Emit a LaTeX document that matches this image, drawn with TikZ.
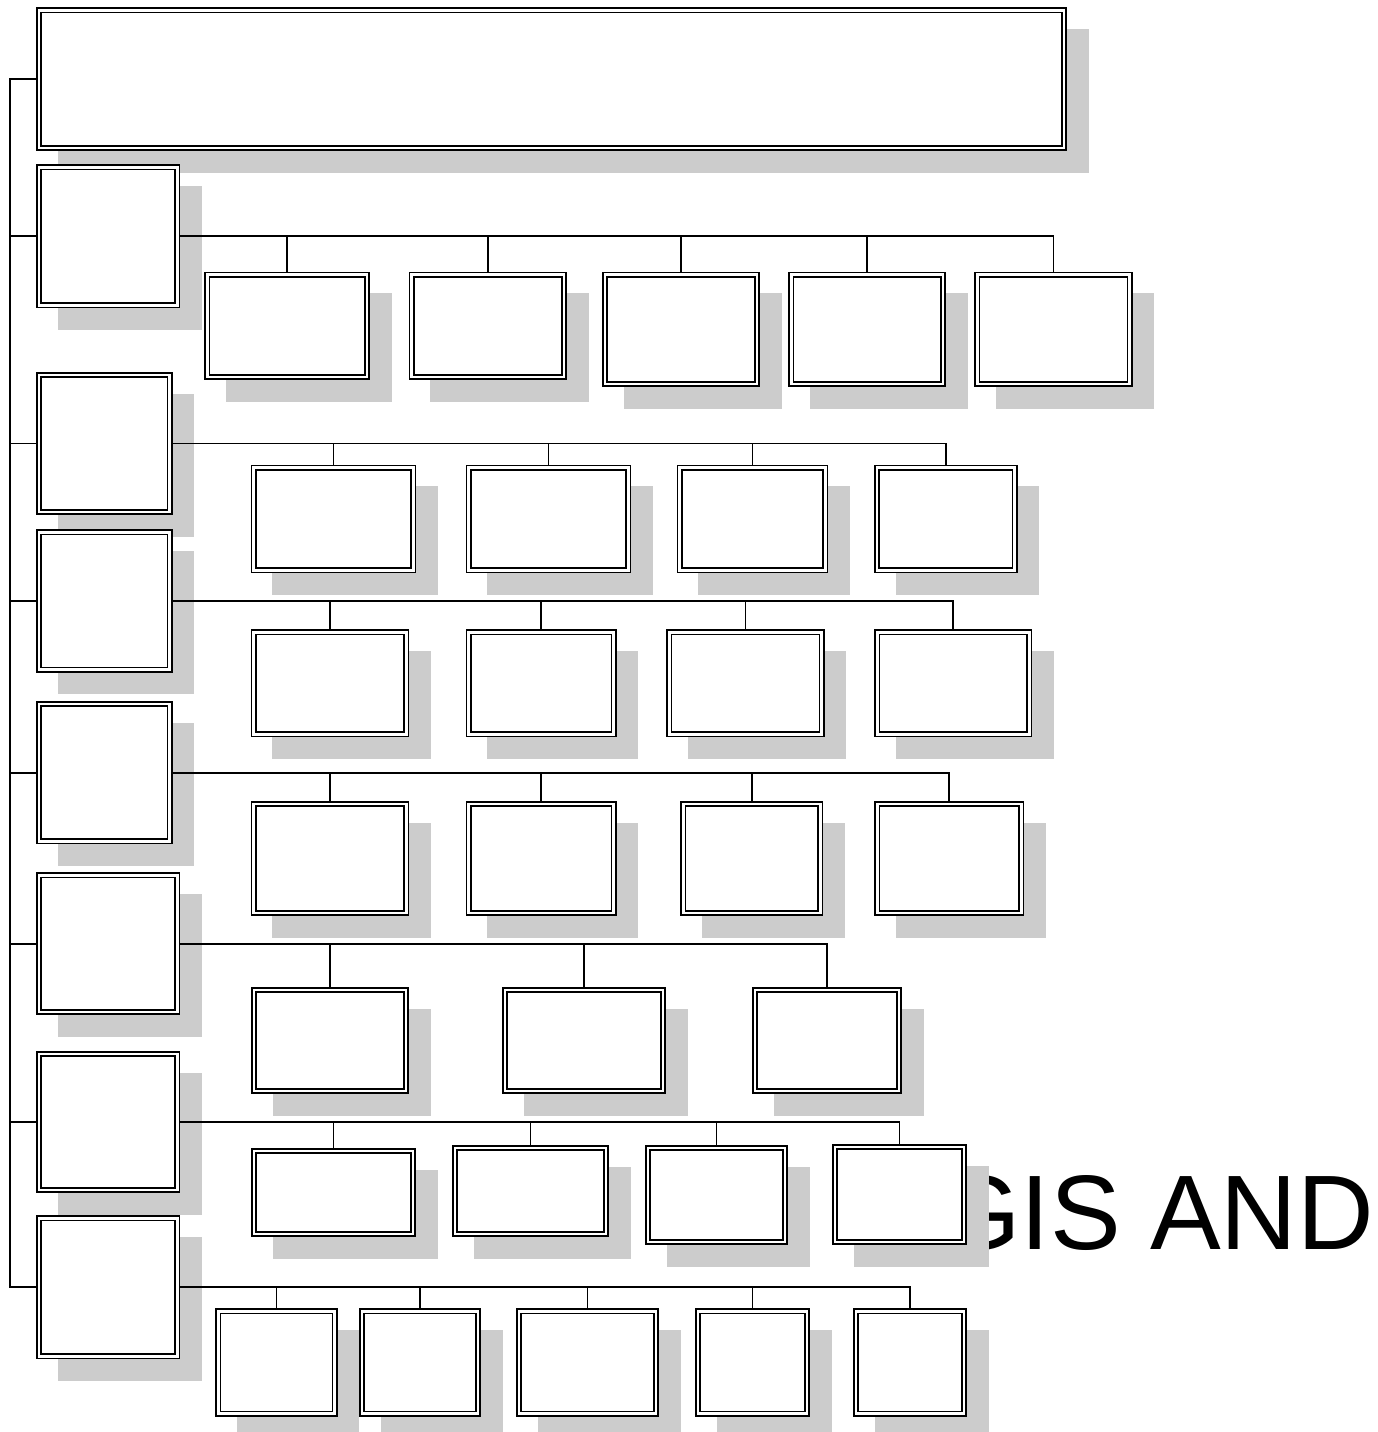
\documentclass[tikz,border=0pt]{standalone}
\usepackage{fontspec}
\setmainfont{Liberation Sans}
\definecolor{shadowc}{HTML}{CCCCCC}
\pgfdeclarelayer{txt}
\pgfdeclarelayer{shade}
\pgfsetlayers{txt,shade,main}
\tikzset{
  dbox/.style={rectangle, draw=black, fill=white, double=white, double distance=2.6pt,
    line width=1.7pt, inner sep=0pt, outer sep=3pt},
  conn/.style={draw=black, line width=1.7pt},
  shad/.style={fill=shadowc}
}
\newcommand\drawbox[5]{%
  \begin{pgfonlayer}{shade}\fill[shad] ({#2+21.5},{#3+21.5}) rectangle ({#4+21.5},{#5+21.5});\end{pgfonlayer}%
  \node[dbox, minimum width={#4-#2-6}, minimum height={#5-#3-6}] (#1) at ({(#2+#4)/2},{(#3+#5)/2}) {};%
}
\begin{document}
\begin{tikzpicture}[x=1pt,y=-1pt]
\useasboundingbox (0,0) rectangle (1377,1432);
\begin{pgfonlayer}{txt}
\node[anchor=base west, inner sep=0pt, font=\fontsize{106}{127}\selectfont] (gis) at (938,1249) {GIS AND};
\end{pgfonlayer}
% top
\drawbox{top}{36}{7.3}{1067}{151}
% level 1
\drawbox{L1}{36}{164.3}{180.3}{308.3}
\drawbox{L2}{36}{372}{172.7}{515}
\drawbox{L3}{36}{529.3}{172.7}{672.7}
\drawbox{L4}{36}{701}{172.7}{844.3}
\drawbox{L5}{36}{872.3}{180.3}{1015}
\drawbox{L6}{36}{1051}{180.3}{1193}
\drawbox{L7}{36}{1215.3}{180.3}{1359.3}
% row 1
\drawbox{r1a}{204.3}{271.7}{370}{380}
\drawbox{r1b}{408.7}{271.7}{567}{380}
\drawbox{r1c}{602}{271.7}{760}{387}
\drawbox{r1d}{788.3}{271.7}{946}{387}
\drawbox{r1e}{974.3}{271.7}{1132.7}{387}
% row 2
\drawbox{r2a}{250.7}{464.7}{416.3}{573.3}
\drawbox{r2b}{465.7}{464.7}{631.3}{573.3}
\drawbox{r2c}{676.7}{464.7}{828.3}{573.3}
\drawbox{r2d}{874}{464.7}{1017.7}{573.3}
% row 3
\drawbox{r3a}{250.7}{629.3}{409.3}{737.3}
\drawbox{r3b}{465.7}{629.3}{616.7}{737.3}
\drawbox{r3c}{666.3}{629.3}{824.7}{737.3}
\drawbox{r3d}{874.3}{629.3}{1032.3}{737.3}
% row 4
\drawbox{r4a}{250.7}{801}{409.3}{916}
\drawbox{r4b}{465.7}{801}{616.7}{916}
\drawbox{r4c}{680.3}{801}{823.3}{916}
\drawbox{r4d}{874.3}{801}{1024.3}{916}
% row 5
\drawbox{r5a}{251}{987}{409}{1094}
\drawbox{r5b}{502}{987}{666}{1094}
\drawbox{r5c}{752}{987}{902}{1094}
% row 6
\drawbox{r6a}{251}{1148}{416}{1237}
\drawbox{r6b}{452}{1145}{609}{1237}
\drawbox{r6c}{645}{1145}{788}{1245}
\drawbox{r6d}{832}{1144}{967}{1245}
% row 7
\drawbox{r7a}{215.3}{1308.3}{337.7}{1416.7}
\drawbox{r7b}{359}{1308.3}{481}{1416.7}
\drawbox{r7c}{516}{1308.3}{659}{1416.7}
\drawbox{r7d}{695}{1308.3}{810}{1416.7}
\drawbox{r7e}{853}{1308.3}{967}{1416.7}
% connectors
\coordinate (trunk) at (10,79.15);
\foreach \i in {1,...,7} \draw[conn] (top.west) -- (trunk) |- (L\i.west);
\foreach \c in {a,b,c,d,e} \draw[conn] (L1.east) -| (r1\c.north);
\foreach \c in {a,b,c,d} \draw[conn] (L2.east) -| (r2\c.north);
\foreach \c in {a,b,c,d} \draw[conn] (L3.east) -| (r3\c.north);
\foreach \c in {a,b,c,d} \draw[conn] (L4.east) -| (r4\c.north);
\foreach \c in {a,b,c} \draw[conn] (L5.east) -| (r5\c.north);
\foreach \c in {a,b,c,d} \draw[conn] (L6.east) -| (r6\c.north);
\foreach \c in {a,b,c,d,e} \draw[conn] (L7.east) -| (r7\c.north);
\end{tikzpicture}
\end{document}
